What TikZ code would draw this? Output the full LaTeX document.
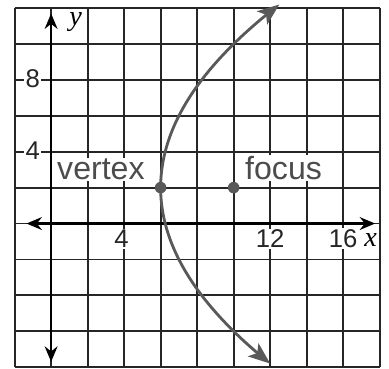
\documentclass[tikz,border=0pt]{standalone}
\usepackage{fontspec}
\setmainfont{Liberation Sans}
\newfontfamily\varfont{Liberation Serif}
\usetikzlibrary{arrows.meta}

\begin{document}
\begin{tikzpicture}[
    x=0.5cm, y=0.4918cm,
    gridLine/.style={draw=black!85, line width=1.4pt},
    axisLine/.style={{Stealth[length=12pt,width=10pt]}-{Stealth[length=12pt,width=10pt]}, line width=1.8pt, draw=black},
    curveLine/.style={{Stealth[length=17pt,width=13pt,inset=4pt]}-{Stealth[length=17pt,width=13pt,inset=4pt]}, line width=2.2pt, draw=black!65},
    tickLabel/.style={fill=white, inner sep=1pt, font=\fontsize{20}{22}\selectfont, text=black!85},
    wordLabel/.style={fill=white, inner sep=1pt, anchor=base west, font=\fontsize{25}{27}\selectfont, text=black!70},
    varLabel/.style={fill=white, inner sep=1pt, font=\fontsize{22}{24}\selectfont\varfont\itshape},
    ptDot/.style={circle, fill=black!65, inner sep=0pt, minimum size=9pt}
]
    \useasboundingbox (-2.8,-8.05) rectangle (18.51,12.45);

    % grid
    \draw[gridLine] (-2,-8) grid[xstep=2,ystep=2] (18,12);

    % tick labels and words (white boxes break the grid)
    \node[tickLabel] (yEight) at (-1,8.05) {8};
    \node[tickLabel] (yFour) at (-1,4.05) {4};
    \node[tickLabel] (xFour) at (3.85,-0.85) {4};
    \node[tickLabel] (xTwelve) at (12,-0.85) {12};
    \node[tickLabel] (xSixteen) at (16,-0.85) {16};
    \node[varLabel] (xName) at (17.5,-0.9) {x};
    \node[varLabel] (yName) at (1.35,11.2) {y};
    \node[wordLabel] (vertexText) at (0.25,2.45) {vertex};
    \node[wordLabel] (focusText) at (10.55,2.45) {focus};

    % axes
    \coordinate (xLeft) at (-1.35,0);
    \coordinate (xRight) at (17.75,0);
    \coordinate (yTop) at (0,11.7);
    \coordinate (yBottom) at (0,-7.7);
    \draw[axisLine] (xLeft) -- (xRight);
    \draw[axisLine] (yBottom) -- (yTop);

    % parabola (y-2)^2 = 16(x-6)
    \draw[curveLine] plot[domain=-7.8:12.2, samples=80, smooth] ({6+(\x-2)^2/16},\x);

    \node[ptDot] (vertex) at (6,2) {};
    \node[ptDot] (focus) at (10,2) {};
\end{tikzpicture}
\end{document}
